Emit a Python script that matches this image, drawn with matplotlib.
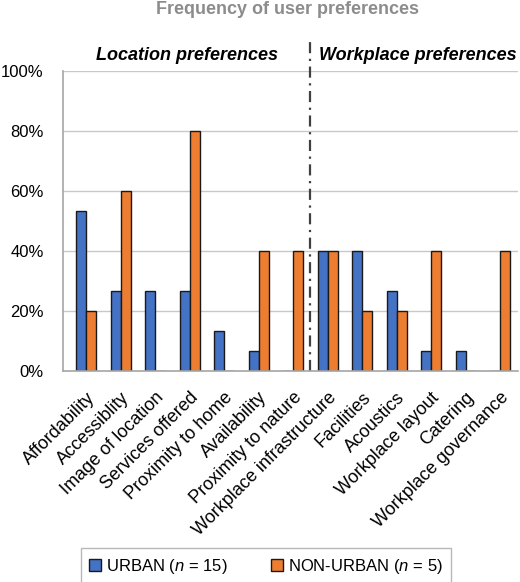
import numpy as np
import matplotlib.pyplot as plt

plt.rcParams['font.family'] = ['Liberation Sans', 'DejaVu Sans']
plt.rcParams['mathtext.fontset'] = 'custom'
plt.rcParams['mathtext.rm'] = 'Liberation Sans'
plt.rcParams['mathtext.it'] = 'Liberation Sans:italic'

# categories and values (% of respondents)
categories = ['Affordability', 'Accessiblity', 'Image of location', 'Services offered',
              'Proximity to home', 'Availability', 'Proximity to nature',
              'Workplace infrastructure', 'Facilities', 'Acoustics',
              'Workplace layout', 'Catering', 'Workplace governance']
urban = [53.3, 26.7, 26.7, 26.7, 13.3, 6.7, 0, 40, 40, 26.7, 6.7, 6.7, 0]
non_urban = [20, 60, 0, 80, 0, 40, 40, 40, 20, 20, 40, 0, 40]
yticks = [0, 20, 40, 60, 80, 100]

blue = '#4472C4'
orange = '#ED7D31'

fig = plt.figure(figsize=(5.2, 5.82), dpi=100)
ax = fig.add_axes([63/520, 211/582, 455/520, 300/582])

x = np.arange(len(categories))
w = 0.29
ax.bar(x - w/2, urban, w, color=blue, edgecolor='#1a1a1a', linewidth=1,
       label='URBAN ($n$ = 15)', zorder=3)
ax.bar(x + w/2, non_urban, w, color=orange, edgecolor='#1a1a1a', linewidth=1,
       label='NON-URBAN ($n$ = 5)', zorder=3)

ax.set_xlim(-0.667, 12.52)
ax.set_ylim(0, 100)
ax.set_yticks(yticks)
ax.set_yticklabels([f'{v}%' for v in yticks], fontsize=12)
ax.yaxis.grid(True, color='#c8c8c8', linewidth=1, zorder=0)
ax.tick_params(axis='both', length=0)
ax.tick_params(axis='y', pad=14)

ax.set_xticks(x)
ax.set_xticklabels(categories, rotation=45, ha='right', rotation_mode='anchor', fontsize=13)
ax.tick_params(axis='x', pad=13)

for s in ['top', 'right']:
    ax.spines[s].set_visible(False)
for s in ['left', 'bottom']:
    ax.spines[s].set_color('#a6a6a6')
    ax.spines[s].set_linewidth(1.2)
    ax.spines[s].set_zorder(5)

# divider between the two groups
ax.plot([6.5, 6.5], [0, 111], color='#404040', linestyle=(0, (5, 2.5, 1, 2.5)),
        linewidth=1.6, clip_on=False, zorder=4)

ax.text(2.93, 105.3, 'Location preferences', ha='center', va='center',
        fontsize=13, fontweight='bold', fontstyle='italic')
ax.text(9.62, 105.3, 'Workplace preferences', ha='center', va='center',
        fontsize=13, fontweight='bold', fontstyle='italic')

fig.text(0.552, 1 - 10/582, 'Frequency of user preferences', ha='center', va='center',
         fontsize=13, fontweight='bold', color='#8c8c8c')

leg = fig.legend(loc='center', bbox_to_anchor=(266/520, 1 - 566/582), ncol=2,
                 fontsize=12, frameon=True, fancybox=False, edgecolor='#a6a6a6',
                 handlelength=0.7, handleheight=0.7, handletextpad=0.3,
                 columnspacing=2.6, borderpad=0.5)
leg.get_frame().set_linewidth(1)

fig.savefig('out.png', dpi=100)
